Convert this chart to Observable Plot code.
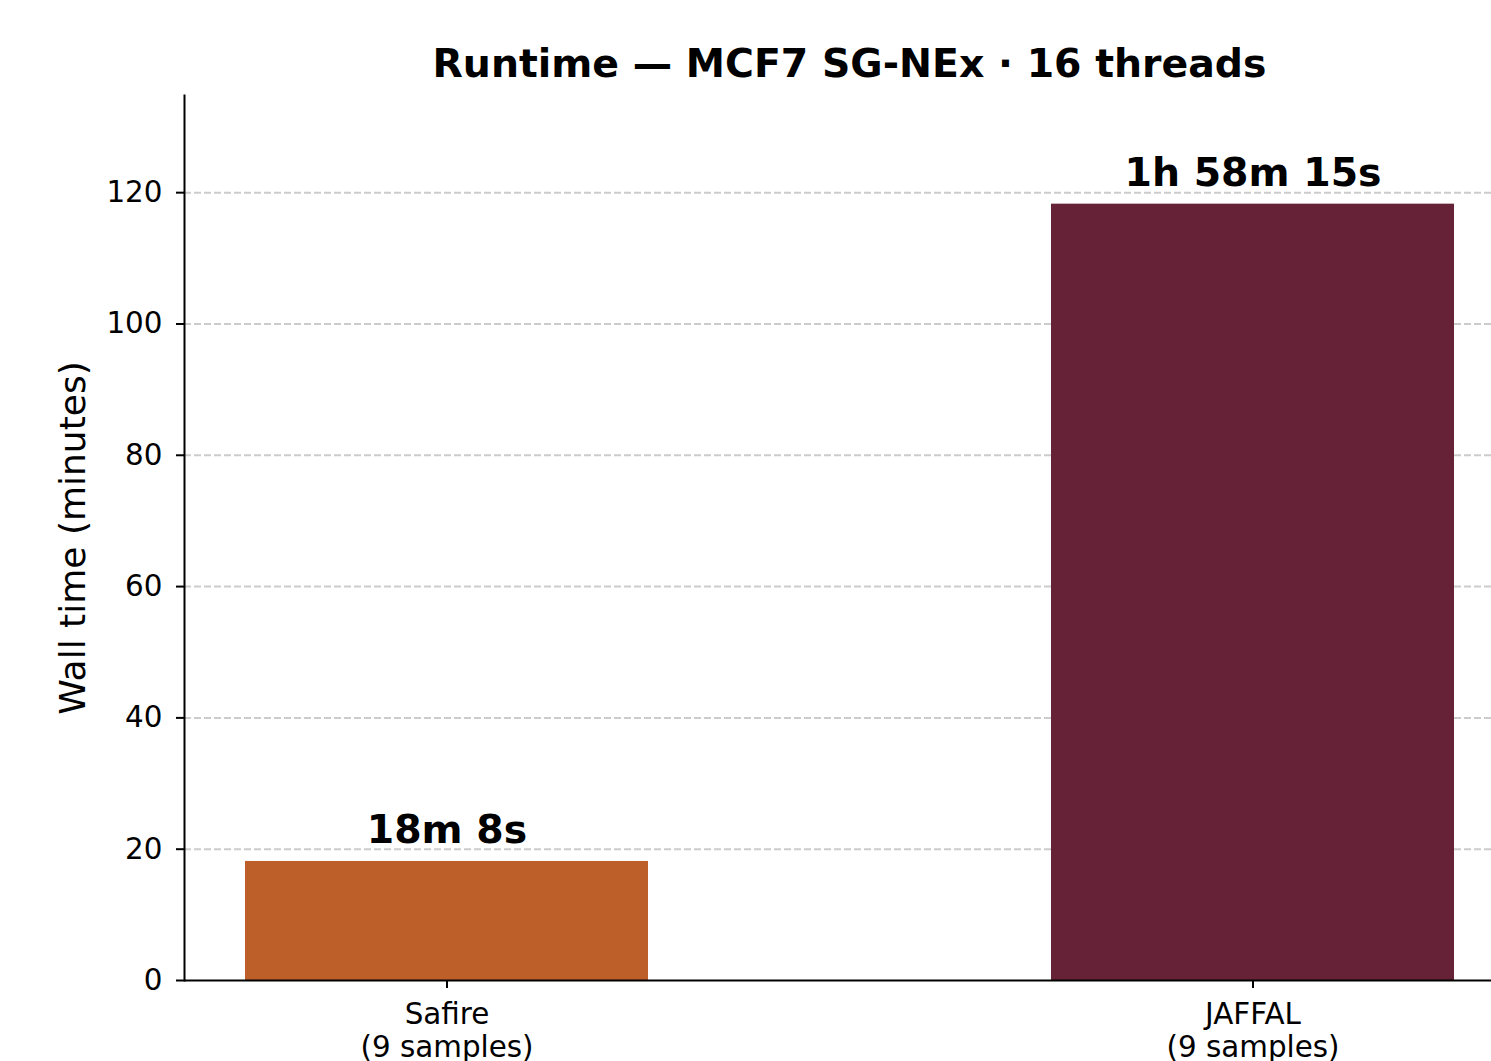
<!DOCTYPE html>
<html>
<head>
<meta charset="utf-8">
<script src="https://cdn.jsdelivr.net/npm/d3@7"></script>
<script src="https://cdn.jsdelivr.net/npm/@observablehq/plot@0.6"></script>
<style>
  html, body { margin: 0; padding: 0; background: #fff; }
  #wrap { position: relative; width: 1491px; height: 1061px; overflow: hidden; background: #fff; }
  #title { position: absolute; left: 184px; width: 1331px; top: 44px; text-align: center;
           font-family: "DejaVu Sans"; font-weight: bold; font-size: 39.4px; line-height: 39px; color: #000; white-space: nowrap; }
  #chart { position: absolute; left: 0; top: 95px; }
  #chart svg { max-width: none !important; }
</style>
</head>
<body>
<div id="wrap">
  <div id="title">Runtime — MCF7 SG-NEx · 16 threads</div>
  <div id="chart"></div>
</div>
<script>
// ---- data ----
const methods = ["Safire", "JAFFAL"];
const sampleLabels = ["(9 samples)", "(9 samples)"];
const wallSeconds = [1088, 7095];          // 18m 8s, 1h 58m 15s
const timeLabels = ["18m 8s", "1h 58m 15s"];
const barColors = ["#BD5F29", "#662236"];
const yTicks = [0, 20, 40, 60, 80, 100, 120];
const gridTicks = [20, 40, 60, 80, 100, 120];
const yMax = 134.8;
const yLabel = "Wall time (minutes)";

const data = methods.map((m, i) => ({
  method: m,
  samples: sampleLabels[i],
  minutes: wallSeconds[i] / 60,
  label: timeLabels[i]
}));
const samplesOf = new Map(data.map(d => [d.method, d.samples]));

const chart = Plot.plot({
  width: 1491,
  height: 966,
  marginLeft: 184,
  marginRight: 0,
  marginTop: 0,
  marginBottom: 81,
  style: { fontFamily: "DejaVu Sans", fontSize: "29.4px", color: "#000", background: "#fff", overflow: "visible" },
  x: { domain: methods, range: [184, 1515], paddingInner: 0.5, paddingOuter: 0.0747, align: 0.5, label: null },
  y: { domain: [0, yMax], label: null },
  color: { domain: methods, range: barColors },
  marks: [
    Plot.ruleY(gridTicks, { stroke: "#cccccc", strokeWidth: 2, strokeDasharray: "7,3" }),
    Plot.barY(data, { x: "method", y: "minutes", fill: "method" }),
    Plot.text(data, { x: "method", y: "minutes", text: "label", lineAnchor: "bottom", dy: -18,
                      fontWeight: "bold", fontSize: 39.4, fill: "#000" }),
    Plot.axisY({ ticks: yTicks, tickSize: 8, tickPadding: 14, fontSize: 29.4, strokeWidth: 2, label: null }),
    Plot.text([yLabel], { frameAnchor: "left", textAnchor: "middle", lineAnchor: "middle", rotate: -90,
                          dx: -111, fontSize: 36, fill: "#000" }),
    Plot.axisX({ tickSize: 8, tickPadding: 11, fontSize: 29.4, strokeWidth: 2, lineHeight: 1.15,
                 tickFormat: d => `${d}\n${samplesOf.get(d)}`, label: null }),
    Plot.frame({ anchor: "left", strokeWidth: 2 }),
    Plot.ruleY([0], { strokeWidth: 2 })
  ]
});
document.getElementById("chart").appendChild(chart);
</script>
</body>
</html>
